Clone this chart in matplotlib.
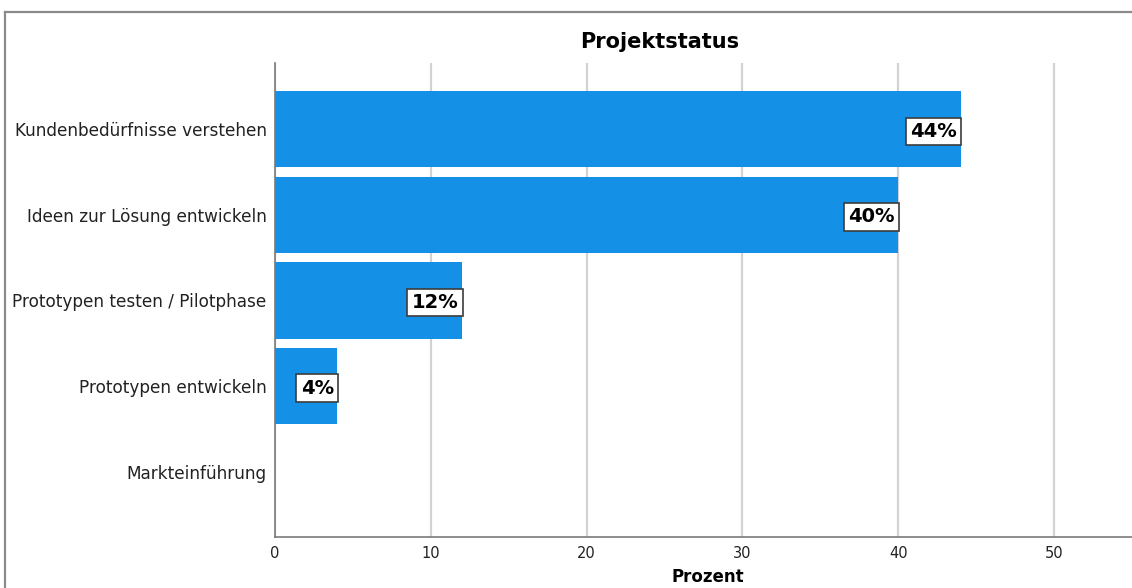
import matplotlib
matplotlib.use("Agg")
import matplotlib.pyplot as plt
from matplotlib.lines import Line2D

categories = [
    "Kundenbedürfnisse verstehen",
    "Ideen zur Lösung entwickeln",
    "Prototypen testen / Pilotphase",
    "Prototypen entwickeln",
    "Markteinführung",
]
percent = [44, 40, 12, 4, 0]
x_ticks = [0, 10, 20, 30, 40, 50]

W, H = 1132, 588
fig = plt.figure(figsize=(W / 100, H / 100), dpi=100)
fig.patch.set_facecolor("white")

# frame around the chart area
fig.add_artist(Line2D([5 / W, 5 / W], [0, 1 - 12 / H], color="#8a8a8a", lw=1.6,
                      transform=fig.transFigure))
fig.add_artist(Line2D([5 / W, 1], [1 - 12 / H, 1 - 12 / H], color="#8a8a8a", lw=1.6,
                      transform=fig.transFigure))

ax = fig.add_axes([275 / W, 1 - 536.7 / H, (W - 275) / W, (536.7 - 62.5) / H])

ypos = list(range(len(categories)))
ax.barh(ypos, percent, height=0.89, color="#1490e6", edgecolor="none", zorder=2)

ax.set_xlim(0, 55.0)
ax.set_ylim(4.76, -0.78)
ax.set_yticks(ypos)
ax.set_yticklabels(categories, fontsize=12.2, family="DejaVu Sans", color="#222222")
ax.set_xticks(x_ticks)
ax.set_xticklabels([str(t) for t in x_ticks], fontsize=10.5, family="DejaVu Sans",
                   color="#222222")
ax.tick_params(axis="both", length=0)
ax.tick_params(axis="y", pad=6)
ax.tick_params(axis="x", pad=7)

ax.grid(axis="x", color="#d2d2d2", lw=1.6, zorder=0)
ax.set_axisbelow(True)
for side in ("top", "right"):
    ax.spines[side].set_visible(False)
for side in ("left", "bottom"):
    ax.spines[side].set_color("#7a7a7a")
    ax.spines[side].set_linewidth(1.2)

for y, v in zip(ypos, percent):
    if v > 0:
        ax.annotate(f"{v}%", xy=(v, y), xytext=(-2.6, -1.5), textcoords="offset points",
                    ha="right", va="center", fontsize=14, fontweight="bold",
                    family="DejaVu Sans", color="black", zorder=4,
                    bbox=dict(boxstyle="square,pad=0.22", fc="white", ec="#3c3c3c",
                              lw=1.2))

fig.text(660 / W, 1 - 42 / H, "Projektstatus", ha="center", va="center",
         fontsize=15, fontweight="bold", family="DejaVu Sans")
fig.text(708 / W, 1 - 586 / H, "Prozent", ha="center", va="bottom",
         fontsize=12, fontweight="bold", family="DejaVu Sans")

fig.savefig("out.png", dpi=100)
